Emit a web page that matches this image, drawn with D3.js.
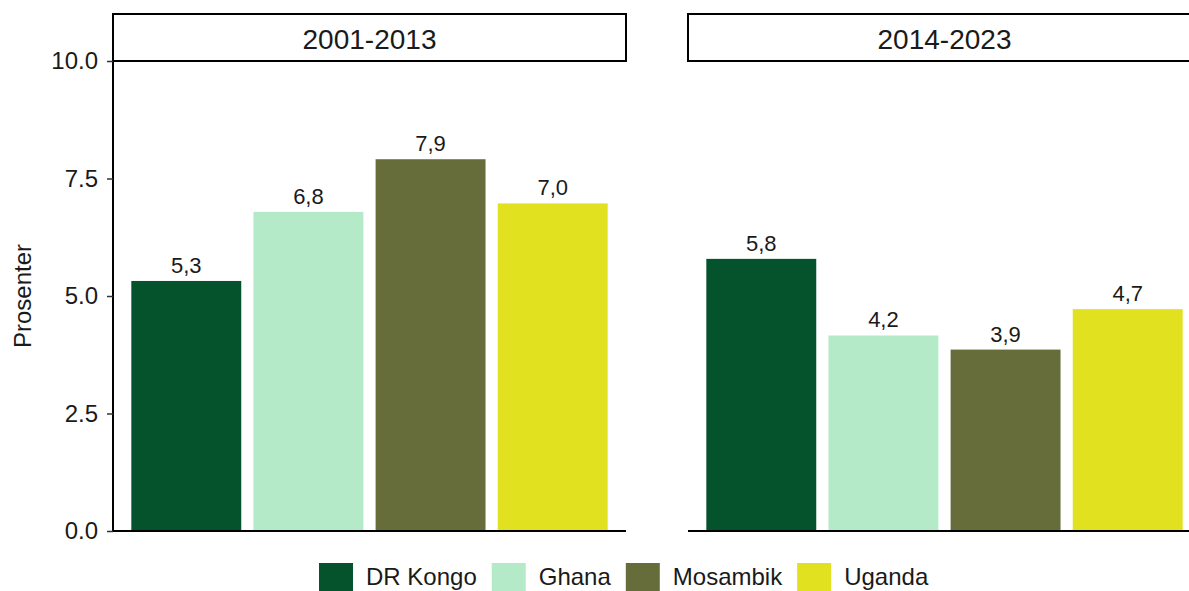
<!DOCTYPE html>
<html>
<head>
<meta charset="utf-8">
<script src="https://cdn.jsdelivr.net/npm/d3@7"></script>
<style>
  html, body { margin: 0; padding: 0; background: #fff; overflow: hidden; }
  svg { display: block; font-family: "Liberation Sans", Arial, sans-serif; }
</style>
</head>
<body>
<svg id="chart" width="1189" height="591"></svg>
<script>
// ---- data ----
const countries = ["DR Kongo", "Ghana", "Mosambik", "Uganda"];
const periods = ["2001-2013", "2014-2023"];
const values2001 = [5.32, 6.79, 7.91, 6.97];
const values2014 = [5.79, 4.16, 3.86, 4.72];
const colors = ["#05532d", "#b4eac8", "#666d3b", "#e1e120"];
const yTicks = [0, 2.5, 5, 7.5, 10];
const yTitle = "Prosenter";

const panelValues = [values2001, values2014];

const svg = d3.select("#chart");
const panelW = 513;
const panelX = [113, 688];
const plotTop = 61, plotBottom = 531;

const y = d3.scaleLinear().domain([0, 10]).range([plotBottom, plotTop]);
const x = d3.scaleBand().domain(countries).range([0, panelW])
  .paddingInner(0.1).paddingOuter(0.15);
const color = d3.scaleOrdinal().domain(countries).range(colors);
const fmt = v => d3.format(".1f")(v).replace(".", ",");

periods.forEach((p, pi) => {
  const g = svg.append("g").attr("transform", `translate(${panelX[pi]},0)`);
  const vals = panelValues[pi];
  const data = countries.map((c, i) => ({c, v: vals[i]}));

  g.selectAll("rect.bar").data(data).enter().append("rect")
    .attr("class", "bar")
    .attr("x", d => x(d.c))
    .attr("width", x.bandwidth())
    .attr("y", d => y(d.v))
    .attr("height", d => y(0) - y(d.v))
    .attr("fill", d => color(d.c));

  g.selectAll("text.lab").data(data).enter().append("text")
    .attr("class", "lab")
    .attr("x", d => x(d.c) + x.bandwidth() / 2)
    .attr("y", d => y(d.v) - 8)
    .attr("text-anchor", "middle")
    .attr("font-size", 22)
    .attr("fill", "#1a1a1a")
    .text(d => fmt(d.v));

  // bottom axis line
  g.append("line")
    .attr("x1", 0).attr("x2", panelW)
    .attr("y1", plotBottom).attr("y2", plotBottom)
    .attr("stroke", "#000").attr("stroke-width", 2);

  // strip
  g.append("rect")
    .attr("x", 0).attr("y", 14)
    .attr("width", panelW).attr("height", plotTop - 14)
    .attr("fill", "#fff").attr("stroke", "#000").attr("stroke-width", 2);
  g.append("text")
    .attr("x", panelW / 2).attr("y", 49)
    .attr("text-anchor", "middle")
    .attr("font-size", 28)
    .attr("fill", "#1a1a1a")
    .text(p);

  if (pi === 0) {
    const ax = g.append("g").call(
      d3.axisLeft(y).tickValues(yTicks).tickSize(6).tickPadding(9)
        .tickFormat(d3.format(".1f"))
    );
    ax.select(".domain").attr("stroke", "#000").attr("stroke-width", 2)
      .attr("d", `M0,${plotBottom}V${plotTop}`);
    ax.selectAll(".tick line").attr("stroke", "#333").attr("stroke-width", 1.5);
    ax.selectAll(".tick text").attr("font-size", 24).attr("fill", "#1a1a1a")
      .attr("font-family", "Liberation Sans, Arial, sans-serif");
  }
});

// y title
svg.append("text")
  .attr("transform", `translate(31,${(plotTop + plotBottom) / 2}) rotate(-90)`)
  .attr("text-anchor", "middle")
  .attr("font-size", 24)
  .attr("fill", "#1a1a1a")
  .text(yTitle);

// legend (flowing layout)
const lg = svg.append("g");
let lx = 319;
const keySize = 34, keyGap = 13, itemGap = 15;
countries.forEach((c, i) => {
  lg.append("rect")
    .attr("x", lx).attr("y", 563)
    .attr("width", keySize).attr("height", keySize)
    .attr("fill", color(c));
  const t = lg.append("text")
    .attr("x", lx + keySize + keyGap).attr("y", 585)
    .attr("font-size", 24)
    .attr("fill", "#1a1a1a")
    .text(c);
  lx += keySize + keyGap + t.node().getComputedTextLength() + itemGap;
});
</script>
</body>
</html>
